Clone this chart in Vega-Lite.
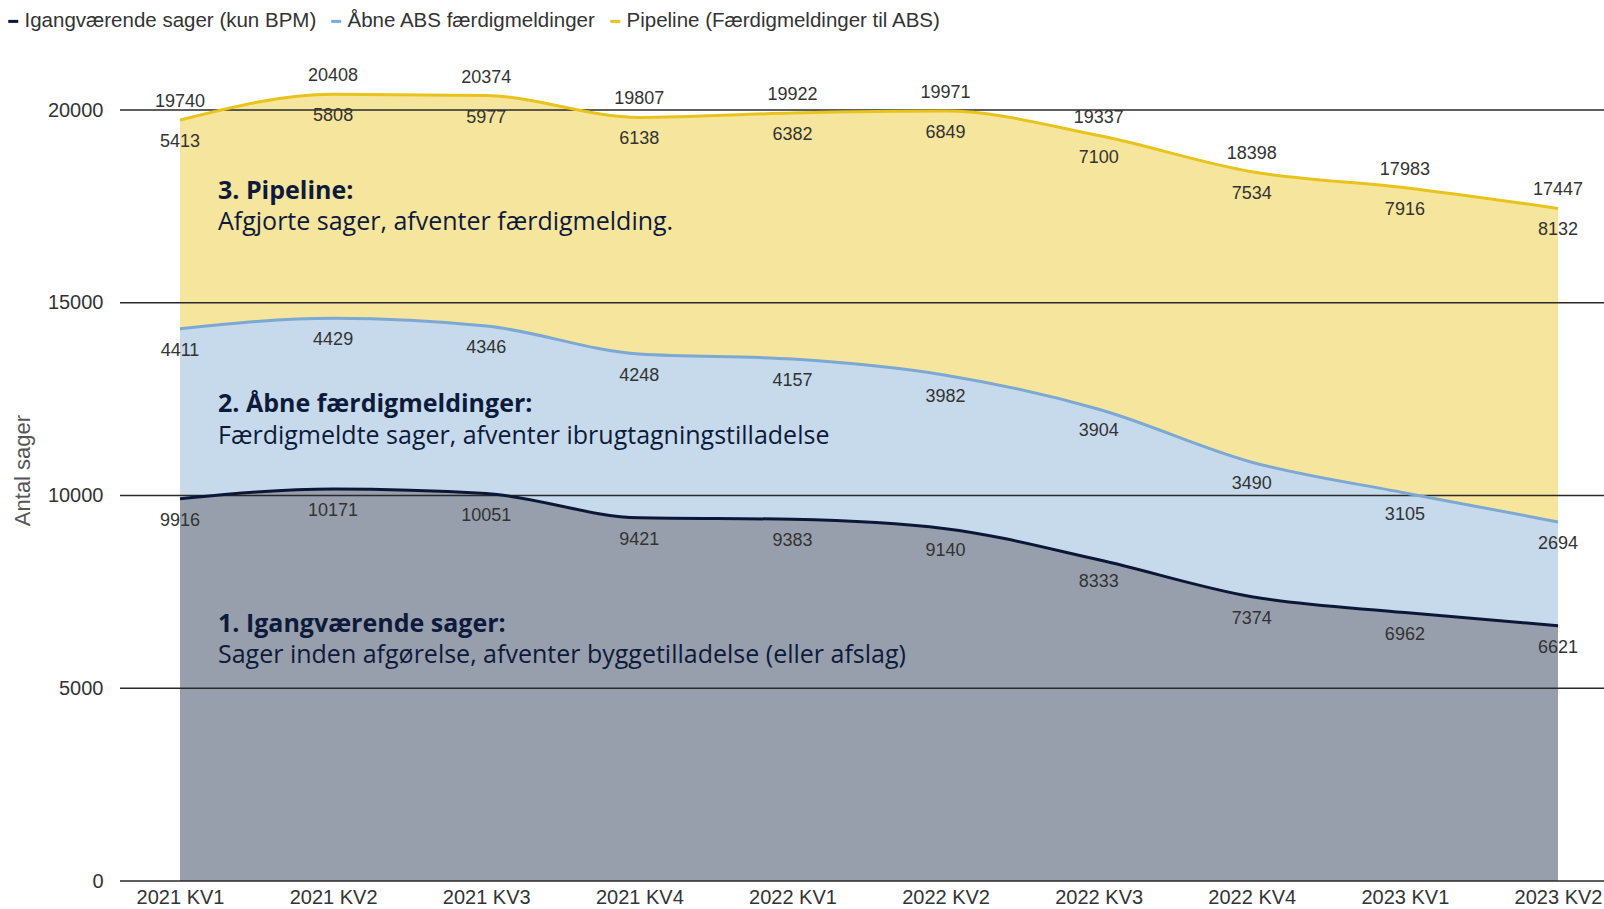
{
  "$schema": "https://vega.github.io/schema/vega-lite/v6.json",
  "width": 1484,
  "height": 771,
  "autosize": "none",
  "padding": {"left": 120, "top": 110, "right": 0, "bottom": 28},
  "background": "white",
  "config": {
    "view": {"stroke": null},
    "font": "Liberation Sans",
    "legend": {
      "title": null,
      "orient": "none",
      "legendX": -117,
      "legendY": -99,
      "direction": "horizontal",
      "symbolType": "stroke",
      "symbolStrokeWidth": 3,
      "symbolSize": 100,
      "labelFontSize": 20.5,
      "labelColor": "#333333",
      "labelOffset": 1,
      "columnPadding": 8,
      "labelLimit": 500
    }
  },
  "data": {
    "values": [
      {"kvartal": "2021 KV1", "serie": "Igangværende sager (kun BPM)", "n": 1, "antal": 9916},
      {"kvartal": "2021 KV2", "serie": "Igangværende sager (kun BPM)", "n": 1, "antal": 10171},
      {"kvartal": "2021 KV3", "serie": "Igangværende sager (kun BPM)", "n": 1, "antal": 10051},
      {"kvartal": "2021 KV4", "serie": "Igangværende sager (kun BPM)", "n": 1, "antal": 9421},
      {"kvartal": "2022 KV1", "serie": "Igangværende sager (kun BPM)", "n": 1, "antal": 9383},
      {"kvartal": "2022 KV2", "serie": "Igangværende sager (kun BPM)", "n": 1, "antal": 9140},
      {"kvartal": "2022 KV3", "serie": "Igangværende sager (kun BPM)", "n": 1, "antal": 8333},
      {"kvartal": "2022 KV4", "serie": "Igangværende sager (kun BPM)", "n": 1, "antal": 7374},
      {"kvartal": "2023 KV1", "serie": "Igangværende sager (kun BPM)", "n": 1, "antal": 6962},
      {"kvartal": "2023 KV2", "serie": "Igangværende sager (kun BPM)", "n": 1, "antal": 6621},
      {"kvartal": "2021 KV1", "serie": "Åbne ABS færdigmeldinger", "n": 2, "antal": 4411},
      {"kvartal": "2021 KV2", "serie": "Åbne ABS færdigmeldinger", "n": 2, "antal": 4429},
      {"kvartal": "2021 KV3", "serie": "Åbne ABS færdigmeldinger", "n": 2, "antal": 4346},
      {"kvartal": "2021 KV4", "serie": "Åbne ABS færdigmeldinger", "n": 2, "antal": 4248},
      {"kvartal": "2022 KV1", "serie": "Åbne ABS færdigmeldinger", "n": 2, "antal": 4157},
      {"kvartal": "2022 KV2", "serie": "Åbne ABS færdigmeldinger", "n": 2, "antal": 3982},
      {"kvartal": "2022 KV3", "serie": "Åbne ABS færdigmeldinger", "n": 2, "antal": 3904},
      {"kvartal": "2022 KV4", "serie": "Åbne ABS færdigmeldinger", "n": 2, "antal": 3490},
      {"kvartal": "2023 KV1", "serie": "Åbne ABS færdigmeldinger", "n": 2, "antal": 3105},
      {"kvartal": "2023 KV2", "serie": "Åbne ABS færdigmeldinger", "n": 2, "antal": 2694},
      {"kvartal": "2021 KV1", "serie": "Pipeline (Færdigmeldinger til ABS)", "n": 3, "antal": 5413},
      {"kvartal": "2021 KV2", "serie": "Pipeline (Færdigmeldinger til ABS)", "n": 3, "antal": 5808},
      {"kvartal": "2021 KV3", "serie": "Pipeline (Færdigmeldinger til ABS)", "n": 3, "antal": 5977},
      {"kvartal": "2021 KV4", "serie": "Pipeline (Færdigmeldinger til ABS)", "n": 3, "antal": 6138},
      {"kvartal": "2022 KV1", "serie": "Pipeline (Færdigmeldinger til ABS)", "n": 3, "antal": 6382},
      {"kvartal": "2022 KV2", "serie": "Pipeline (Færdigmeldinger til ABS)", "n": 3, "antal": 6849},
      {"kvartal": "2022 KV3", "serie": "Pipeline (Færdigmeldinger til ABS)", "n": 3, "antal": 7100},
      {"kvartal": "2022 KV4", "serie": "Pipeline (Færdigmeldinger til ABS)", "n": 3, "antal": 7534},
      {"kvartal": "2023 KV1", "serie": "Pipeline (Færdigmeldinger til ABS)", "n": 3, "antal": 7916},
      {"kvartal": "2023 KV2", "serie": "Pipeline (Færdigmeldinger til ABS)", "n": 3, "antal": 8132}
    ]
  },
  "transform": [
    {"stack": "antal", "groupby": ["kvartal"], "sort": [{"field": "n", "order": "ascending"}], "as": ["v0", "v1"]}
  ],
  "encoding": {
    "x": {
      "field": "kvartal",
      "type": "ordinal",
      "scale": {"type": "point", "range": [60, 1438], "padding": 0},
      "axis": {
        "title": null,
        "domain": false,
        "ticks": false,
        "grid": false,
        "labelAngle": 0,
        "labelFontSize": 20,
        "labelColor": "#333333",
        "labelPadding": 6,
        "labelOverlap": false,
        "labelBound": false,
        "labelFlush": false
      }
    }
  },
  "layer": [
    {
      "mark": {"type": "area", "interpolate": "monotone"},
      "encoding": {
        "y": {
          "field": "v1",
          "type": "quantitative",
          "scale": {"domain": [0, 20000], "nice": false, "zero": true},
          "axis": {
            "title": "Antal sager",
            "values": [0, 5000, 10000, 15000, 20000],
            "format": "d",
            "domain": false,
            "ticks": false,
            "grid": false,
            "labelFontSize": 20,
            "labelColor": "#333333",
            "labelPadding": 17,
            "titleFontSize": 22,
            "titleFontWeight": "normal",
            "titleColor": "#555555",
            "titleX": -98,
            "titleY": 360,
            "titleAngle": -90,
            "titleAlign": "center",
            "titleBaseline": "middle"
          }
        },
        "y2": {"field": "v0"},
        "fill": {
          "field": "serie",
          "type": "nominal",
          "scale": {
            "domain": ["Igangværende sager (kun BPM)", "Åbne ABS færdigmeldinger", "Pipeline (Færdigmeldinger til ABS)"],
            "range": ["#979fac", "#c6daeb", "#f6e59d"]
          }
        },
        "order": {"field": "n"}
      }
    },
    {
      "data": {"values": [{"g": 0}, {"g": 5000}, {"g": 10000}, {"g": 15000}, {"g": 20000}]},
      "mark": {"type": "rule", "color": "#2a2a2a", "strokeWidth": 1.5},
      "encoding": {
        "x": null,
        "y": {"field": "g", "type": "quantitative"}
      }
    },
    {
      "mark": {"type": "line", "interpolate": "monotone", "strokeWidth": 3},
      "encoding": {
        "y": {"field": "v1", "type": "quantitative"},
        "stroke": {
          "field": "serie",
          "type": "nominal",
          "scale": {
            "domain": ["Igangværende sager (kun BPM)", "Åbne ABS færdigmeldinger", "Pipeline (Færdigmeldinger til ABS)"],
            "range": ["#0c1738", "#7ca8d4", "#e8c31c"]
          }
        }
      }
    },
    {
      "mark": {"type": "text", "fontSize": 18, "color": "#333333", "dy": 27, "baseline": "alphabetic", "align": "center"},
      "encoding": {
        "y": {"field": "v1", "type": "quantitative"},
        "text": {"field": "antal", "type": "quantitative", "format": "d"}
      }
    },
    {
      "transform": [{"filter": "datum.n == 3"}],
      "mark": {"type": "text", "fontSize": 18, "color": "#333333", "dy": -13, "baseline": "alphabetic", "align": "center"},
      "encoding": {
        "y": {"field": "v1", "type": "quantitative"},
        "text": {"field": "v1", "type": "quantitative", "format": "d"}
      }
    },
    {
      "data": {"values": [{}]},
      "mark": {"type": "text", "font": "Open Sans", "fontWeight": "bold", "fontSize": 25, "color": "#0e1a3b", "align": "left", "baseline": "alphabetic", "dx": 38, "text": "3. Pipeline:"},
      "encoding": {"x": {"datum": "2021 KV1"}, "y": {"datum": 17691}}
    },
    {
      "data": {"values": [{}]},
      "mark": {"type": "text", "font": "Open Sans", "fontSize": 25, "color": "#0e1a3b", "align": "left", "baseline": "alphabetic", "dx": 38, "text": "Afgjorte sager, afventer færdigmelding."},
      "encoding": {"x": {"datum": "2021 KV1"}, "y": {"datum": 16887}}
    },
    {
      "data": {"values": [{}]},
      "mark": {"type": "text", "font": "Open Sans", "fontWeight": "bold", "fontSize": 25, "color": "#0e1a3b", "align": "left", "baseline": "alphabetic", "dx": 38, "text": "2. Åbne færdigmeldinger:"},
      "encoding": {"x": {"datum": "2021 KV1"}, "y": {"datum": 12166}}
    },
    {
      "data": {"values": [{}]},
      "mark": {"type": "text", "font": "Open Sans", "fontSize": 25, "color": "#0e1a3b", "align": "left", "baseline": "alphabetic", "dx": 38, "text": "Færdigmeldte sager, afventer ibrugtagningstilladelse"},
      "encoding": {"x": {"datum": "2021 KV1"}, "y": {"datum": 11336}}
    },
    {
      "data": {"values": [{}]},
      "mark": {"type": "text", "font": "Open Sans", "fontWeight": "bold", "fontSize": 25, "color": "#0e1a3b", "align": "left", "baseline": "alphabetic", "dx": 38, "text": "1. Igangværende sager:"},
      "encoding": {"x": {"datum": "2021 KV1"}, "y": {"datum": 6459}}
    },
    {
      "data": {"values": [{}]},
      "mark": {"type": "text", "font": "Open Sans", "fontSize": 25, "color": "#0e1a3b", "align": "left", "baseline": "alphabetic", "dx": 38, "text": "Sager inden afgørelse, afventer byggetilladelse (eller afslag)"},
      "encoding": {"x": {"datum": "2021 KV1"}, "y": {"datum": 5655}}
    }
  ]
}
